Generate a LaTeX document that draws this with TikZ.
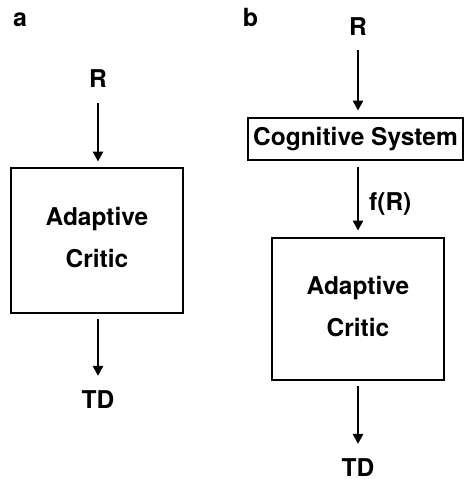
\documentclass[tikz,border=0pt]{standalone}
\usepackage{fontspec}
\setmainfont{TeX Gyre Heros}
\usetikzlibrary{arrows.meta}
\begin{document}
\begin{tikzpicture}[x=1pt,y=-1pt,
  txt/.style={inner sep=0pt, anchor=base, font=\fontsize{24.5}{42}\selectfont\bfseries},
  panel/.style={inner sep=0pt, anchor=base, font=\fontsize{25}{30}\selectfont\bfseries},
  blockbox/.style={draw, line width=2.8pt, inner sep=0pt, align=center, font=\fontsize{24.5}{42}\selectfont\bfseries},
  arr/.style={line width=2.6pt, -{Triangle[width=10pt,length=10pt]}}]
\useasboundingbox (0,0) rectangle (465,481);
% panel a
\node[panel] (la) at (20,27) {a};
\node[txt] (Ra) at (98,88) {R};
\node[blockbox, minimum width=172pt, minimum height=145pt] (aca) at (97,240.5) {Adaptive\\Critic\rule[-6pt]{0pt}{0pt}};
\node[txt] (TDa) at (98,408) {TD};
\draw[arr, shorten <=15pt, shorten >=5pt] (Ra.south) -- (Ra.south |- aca.north);
\draw[arr, shorten <=5pt, shorten >=14pt] (Ra.south |- aca.south) -- (TDa.north);
% panel b
\node[panel] (lb) at (250.5,27) {b};
\node[txt] (Rb) at (358,36) {R};
\node[blockbox, minimum width=215pt, minimum height=42pt] (cog) at (355.5,139) {Cognitive System};
\node[blockbox, minimum width=172pt, minimum height=142pt] (acb) at (358,309) {Adaptive\\Critic\rule[-6pt]{0pt}{0pt}};
\node[txt] (TDb) at (358,476) {TD};
\node[txt, anchor=base west] (fR) at (369,210) {f(R)};
\draw[arr, shorten <=14pt, shorten >=6pt] (Rb.south) -- (Rb.south |- cog.north);
\draw[arr, shorten <=6pt, shorten >=6pt] (Rb.south |- cog.south) -- (acb.north);
\draw[arr, shorten <=5pt, shorten >=14pt] (acb.south) -- (TDb.north);
\end{tikzpicture}
\end{document}
